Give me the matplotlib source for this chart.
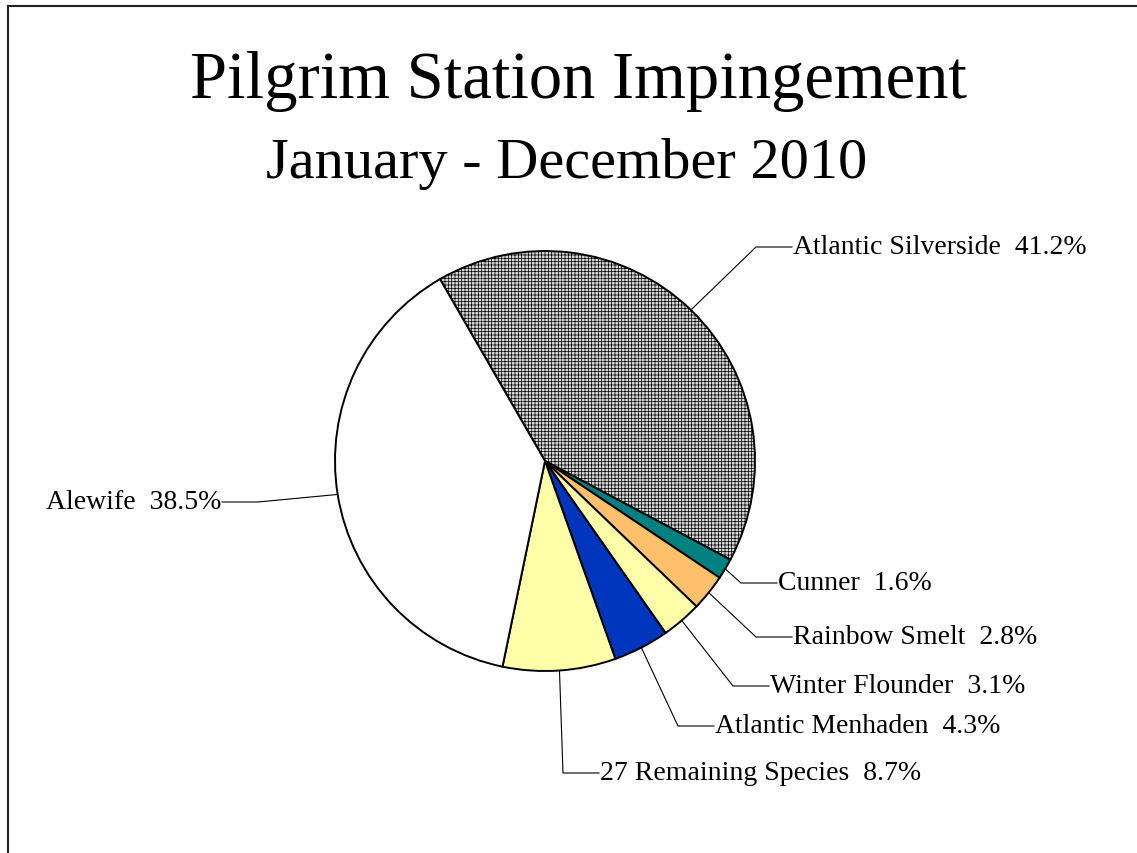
import numpy as np
import matplotlib
matplotlib.use("Agg")
import matplotlib.pyplot as plt

plt.rcParams["font.family"] = ["Liberation Serif", "DejaVu Serif"]
plt.rcParams["hatch.linewidth"] = 0.5

W, H = 1137, 854

# data (clockwise from the top-left edge)
species = ["Atlantic Silverside", "Cunner", "Rainbow Smelt", "Winter Flounder",
           "Atlantic Menhaden", "27 Remaining Species", "Alewife"]
percent = [41.2, 1.6, 2.8, 3.1, 4.3, 8.7, 38.5]
colors = ["#D4D4D4", "#008080", "#FFC06B", "#FFFFAA", "#0036BE", "#FFFFAA", "white"]

# label anchor (x, y in pixels from top-left), side
label_pos = [(793, 248, "left"), (778, 584, "left"), (793, 638, "left"),
             (770, 687, "left"), (715, 727, "left"), (600, 774, "left"),
             (221, 503, "right")]

fig = plt.figure(figsize=(W / 100, H / 100), dpi=100, facecolor="white")
ax = fig.add_axes([0, 0, 1, 1])

cx, cy, r = 545, H - 462, 210
wedges, _ = ax.pie(percent, colors=colors, startangle=120, counterclock=False,
                   center=(cx, cy), radius=r,
                   wedgeprops=dict(edgecolor="black", linewidth=1.4))
wedges[0].set_hatch("+++++")

seg = 36
for w, name, pct, (tx, ty, side) in zip(wedges, species, percent, label_pos):
    mid = np.deg2rad((w.theta1 + w.theta2) / 2)
    x0, y0 = cx + r * np.cos(mid), cy + r * np.sin(mid)
    y = H - ty
    if side == "left":
        ex, hx = tx - seg - 1, tx - 1
    else:
        ex, hx = tx + seg + 1, tx + 1
    ax.plot([x0, ex, hx], [y0, y, y], color="black", lw=0.8)
    ax.text(tx, y, f"{name}  {pct}%", ha=side, va="center", fontsize=20)

ax.text(578, H - 98, "Pilgrim Station Impingement", ha="center",
        va="baseline", fontsize=48)
ax.text(567, H - 178, "January - December 2010", ha="center",
        va="baseline", fontsize=42)

# chart frame (only top and left edges are visible)
ax.plot([8, W + 5], [H - 7, H - 7], color="#222222", lw=1.5, clip_on=False)
ax.plot([8, 8], [H - 7, -5], color="#222222", lw=1.5, clip_on=False)

ax.set_xlim(0, W)
ax.set_ylim(0, H)
ax.set_aspect("equal")
ax.axis("off")

fig.savefig("out.png", dpi=100, facecolor="white")
